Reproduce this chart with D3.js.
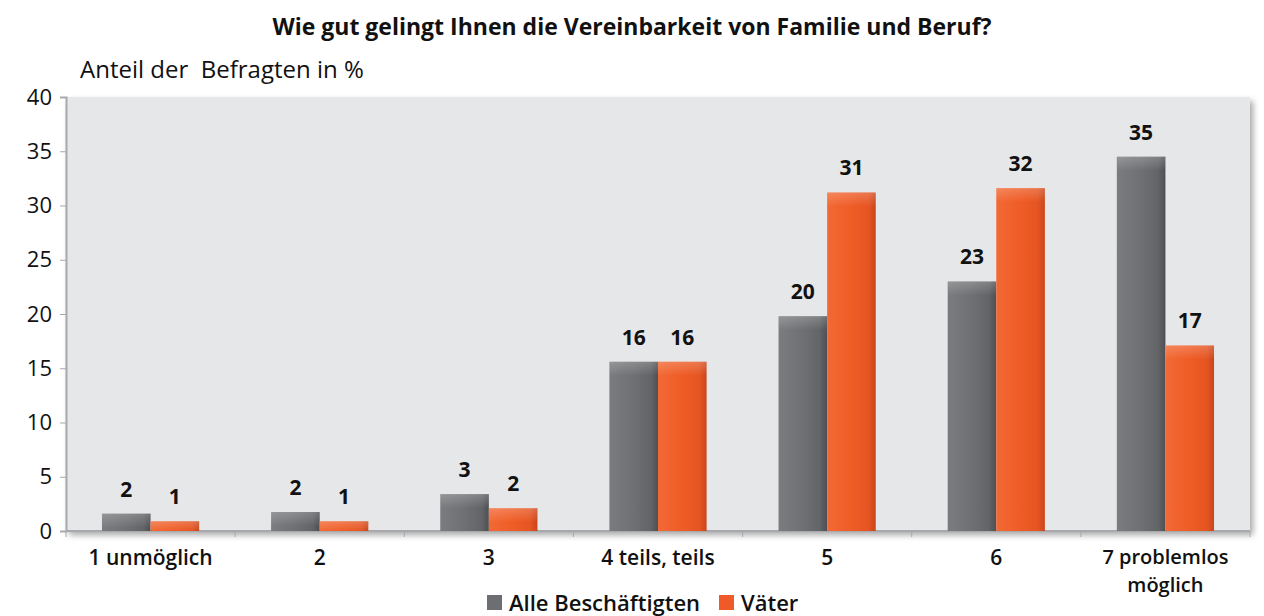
<!DOCTYPE html>
<html>
<head>
  <meta charset="utf-8">
  <title>Vereinbarkeit von Familie und Beruf</title>
  <script src="https://cdn.jsdelivr.net/npm/d3@7"></script>
  <style>
    body { margin: 0; background: #fff; font-family: "Open Sans", sans-serif; }
    text { fill: #111; }
  </style>
</head>
<body>
  <script type="text/javascript">
    // Data
    var categories = ["1 unmöglich", "2", "3", "4 teils, teils", "5", "6", "7 problemlos möglich"];
    var seriesNames = ["Alle Beschäftigten", "Väter"];
    var alleValues = [1.6, 1.75, 3.4, 15.6, 19.8, 23.0, 34.5];
    var vaeterValues = [0.9, 0.9, 2.1, 15.6, 31.2, 31.6, 17.1];
    var alleLabels = ["2", "2", "3", "16", "20", "23", "35"];
    var vaeterLabels = ["1", "1", "2", "16", "31", "32", "17"];
    var yTicks = [0, 5, 10, 15, 20, 25, 30, 35, 40];

    var w = 1264, h = 616;
    var margin = { left: 66, right: 14, top: 97, bottom: 85 };

    var svg = d3.select("body").append("svg")
      .attr("width", w)
      .attr("height", h);

    var defs = svg.append("defs");

    var shadow = defs.append("filter").attr("id", "shadow")
      .attr("x", "-5%").attr("y", "-5%").attr("width", "110%").attr("height", "115%");
    shadow.append("feDropShadow")
      .attr("dx", 3).attr("dy", 4).attr("stdDeviation", 3)
      .attr("flood-color", "#000").attr("flood-opacity", 0.35);

    function hGrad(id, stops) {
      var g = defs.append("linearGradient").attr("id", id)
        .attr("x1", 0).attr("x2", 1).attr("y1", 0).attr("y2", 0);
      stops.forEach(function(s) {
        g.append("stop").attr("offset", s[0]).attr("stop-color", s[1]);
      });
    }
    hGrad("gradGrey", [[0, "#7b7c7f"], [0.5, "#6f7073"], [0.85, "#636467"], [1, "#4e4f52"]]);
    hGrad("gradOrange", [[0, "#f26935"], [0.5, "#ef5c26"], [0.85, "#e55522"], [1, "#c9461b"]]);

    var topHi = defs.append("linearGradient").attr("id", "topHi")
      .attr("x1", 0).attr("x2", 0).attr("y1", 0).attr("y2", 1);
    topHi.append("stop").attr("offset", 0).attr("stop-color", "#fff").attr("stop-opacity", 0.2);
    topHi.append("stop").attr("offset", 1).attr("stop-color", "#fff").attr("stop-opacity", 0);

    var x = d3.scaleBand()
      .domain(categories)
      .range([margin.left, w - margin.right]);

    var x1 = d3.scaleBand()
      .domain(seriesNames)
      .range([0, x.bandwidth()])
      .paddingInner(0)
      .paddingOuter(0.74);

    var y = d3.scaleLinear()
      .domain([0, 40])
      .range([h - margin.bottom, margin.top]);

    // plot background
    svg.append("rect")
      .attr("x", margin.left)
      .attr("y", margin.top)
      .attr("width", w - margin.left - margin.right)
      .attr("height", h - margin.top - margin.bottom)
      .attr("fill", "#e6e7e8")
      .attr("filter", "url(#shadow)");

    // axes
    var yAxis = svg.append("g")
      .attr("transform", "translate(" + margin.left + ",0)")
      .call(d3.axisLeft(y).tickValues(yTicks).tickSize(6).tickPadding(8));
    yAxis.select(".domain").attr("stroke", "#a7a9ac").attr("stroke-width", 2);
    yAxis.selectAll(".tick line").attr("stroke", "#a7a9ac");
    yAxis.selectAll(".tick text")
      .style("font-size", "22px")
      .style("font-family", "'Open Sans', sans-serif")
      .attr("fill", "#111");

    var xAxis = svg.append("g")
      .attr("transform", "translate(0," + (h - margin.bottom) + ")");
    xAxis.append("line")
      .attr("x1", margin.left).attr("x2", w - margin.right)
      .attr("stroke", "#a7a9ac").attr("stroke-width", 2);
    var bounds = categories.map(function(c) { return x(c); }).concat([w - margin.right]);
    xAxis.selectAll(".bt").data(bounds).enter().append("line")
      .attr("x1", function(d) { return d; }).attr("x2", function(d) { return d; })
      .attr("y1", 0).attr("y2", 6)
      .attr("stroke", "#a7a9ac");

    // category labels, the last one on two lines
    categories.forEach(function(d) {
      var cx = x(d) + x.bandwidth() / 2;
      var lines = d === "7 problemlos möglich" ? ["7 problemlos", "möglich"] : [d];
      lines.forEach(function(line, k) {
        xAxis.append("text")
          .attr("text-anchor", "middle")
          .attr("x", cx)
          .attr("y", lines.length > 1 ? 33 + k * 28 : 34)
          .style("font-size", lines.length > 1 ? "20px" : "21px")
          .style("font-weight", 600)
          .text(line);
      });
    });

    // bars
    var series = [
      { name: seriesNames[0], values: alleValues, labels: alleLabels, fill: "url(#gradGrey)", color: "#6d6e71" },
      { name: seriesNames[1], values: vaeterValues, labels: vaeterLabels, fill: "url(#gradOrange)", color: "#f05a28" }
    ];

    series.forEach(function(s) {
      var g = svg.append("g");
      g.selectAll("rect.bar").data(categories).enter().append("rect")
        .attr("class", "bar")
        .attr("x", function(c) { return x(c) + x1(s.name); })
        .attr("y", function(c, i) { return y(s.values[i]); })
        .attr("width", x1.bandwidth())
        .attr("height", function(c, i) { return y(0) - y(s.values[i]); })
        .attr("fill", s.fill);
      g.selectAll("rect.hi").data(categories).enter().append("rect")
        .attr("class", "hi")
        .attr("x", function(c) { return x(c) + x1(s.name); })
        .attr("y", function(c, i) { return y(s.values[i]); })
        .attr("width", x1.bandwidth())
        .attr("height", function(c, i) { return Math.min(14, y(0) - y(s.values[i])); })
        .attr("fill", "url(#topHi)");
      g.selectAll("text.val").data(categories).enter().append("text")
        .attr("class", "val")
        .attr("text-anchor", "middle")
        .attr("x", function(c) { return x(c) + x1(s.name) + x1.bandwidth() / 2; })
        .attr("y", function(c, i) { return y(s.values[i]) - 17; })
        .style("font-size", "21px")
        .style("font-weight", 700)
        .text(function(c, i) { return s.labels[i]; });
    });

    // title
    svg.append("text")
      .attr("x", 632).attr("y", 35)
      .attr("text-anchor", "middle")
      .style("font-size", "23px")
      .style("font-weight", 700)
      .text("Wie gut gelingt Ihnen die Vereinbarkeit von Familie und Beruf?");

    svg.append("text")
      .attr("x", 80).attr("y", 78)
      .style("font-size", "24px")
      .attr("xml:space", "preserve")
      .text("Anteil der  Befragten in %");

    // legend
    var legend = svg.append("g").attr("transform", "translate(487,595)");
    var lx = [0, 232];
    series.forEach(function(s, i) {
      legend.append("rect")
        .attr("x", lx[i]).attr("y", 0)
        .attr("width", 15).attr("height", 15)
        .attr("fill", s.color);
      legend.append("text")
        .attr("x", lx[i] + 22).attr("y", 16)
        .style("font-size", "22px")
        .style("font-weight", 600)
        .text(s.name);
    });
  </script>
</body>
</html>
